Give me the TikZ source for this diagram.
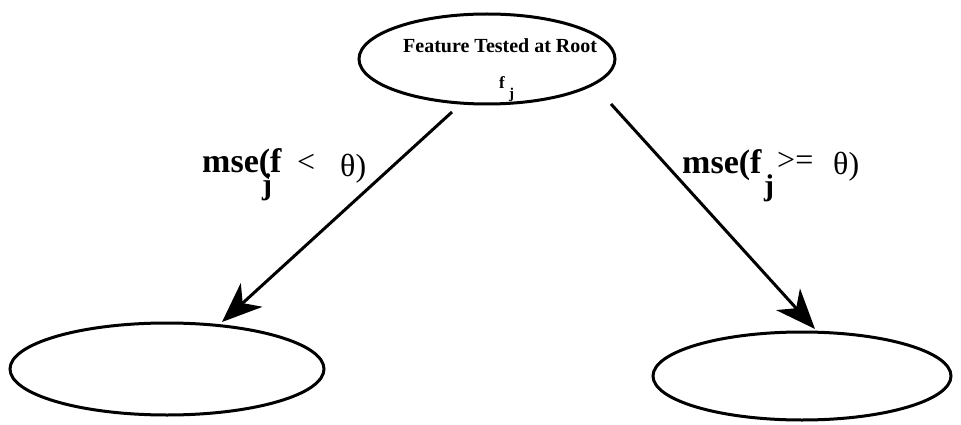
\documentclass[tikz,border=0pt]{standalone}
\usepackage{fontspec}
\setmainfont{Liberation Serif}
\usetikzlibrary{shapes.geometric,arrows.meta}
\tikzset{
  oval/.style={ellipse, draw, line width=3pt, inner sep=0pt},
  link/.style={line width=3pt, -{Stealth[length=40pt, width=32pt, inset=12pt]}},
  big/.style={font=\fontsize{34}{40}\selectfont\bfseries, inner sep=0pt, anchor=base west},
  bigsub/.style={font=\fontsize{30}{36}\selectfont\bfseries, inner sep=0pt, anchor=base west},
  bigsym/.style={font=\fontsize{32}{38}\selectfont, inner sep=0pt, anchor=base west},
}
\begin{document}
\begin{tikzpicture}[x=1pt,y=-1pt]
\useasboundingbox (0,0) rectangle (961,425);
\node[oval, minimum width=256pt, minimum height=90pt] (root) at (487,59) {};
\node[oval, minimum width=314pt, minimum height=92pt] (left) at (167,369) {};
\node[oval, minimum width=298pt, minimum height=88pt] (right) at (802,376) {};
\node[font=\fontsize{20}{24}\selectfont\bfseries, inner sep=0pt, anchor=base west] (title) at (403,53) {Feature Tested at Root};
\node[font=\fontsize{17}{20}\selectfont\bfseries, inner sep=0pt, anchor=base west] (rf) at (499,89) {f};
\node[font=\fontsize{15}{18}\selectfont\bfseries, inner sep=0pt, anchor=base west] (rj) at (509,99) {j};
\coordinate (ls) at (452,112);
\coordinate (lt) at (222,322);
\coordinate (rs) at (611,104);
\coordinate (rt) at (815,329);
\draw[link] (ls) -- (lt);
\draw[link] (rs) -- (rt);
% left label
\node[big] (lm) at (202,172) {mse(f};
\node[bigsub] (lj) at (262,194) {j};
\node[bigsym] (llt) at (297,172) {<};
\node[bigsym] (lth) at (340,176) {θ)};
% right label
\node[big] (rm) at (682,173) {mse(f};
\node[bigsub] (rjj) at (764,195) {j};
\node[bigsym] (rge) at (777,171) {>=};
\node[bigsym] (rth) at (833,175) {θ)};
\end{tikzpicture}
\end{document}
